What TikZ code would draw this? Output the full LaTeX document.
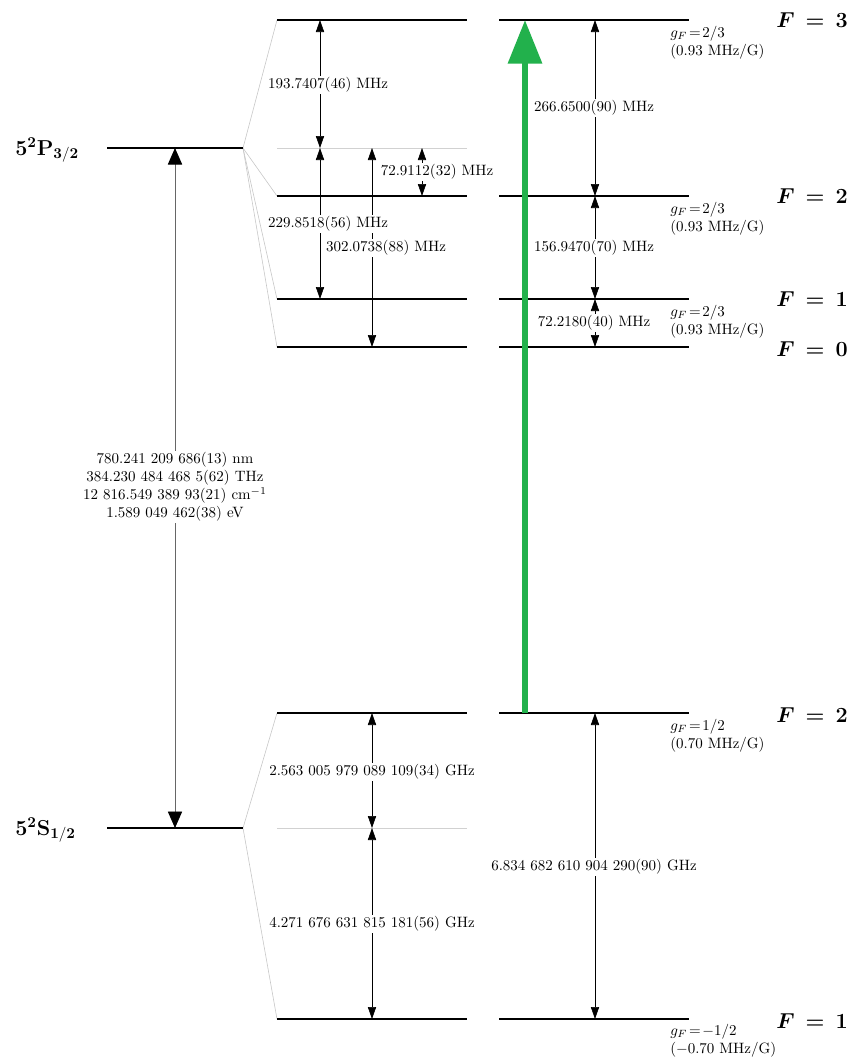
\documentclass[tikz,border=0pt]{standalone}
\usetikzlibrary{arrows.meta}
\definecolor{pgreen}{HTML}{22B14C}
\begin{document}
\begin{tikzpicture}[x=0.6667pt,y=-0.6667pt,
  level/.style={line width=1.6pt},
  fan/.style={black!22,line width=0.4pt},
  cog/.style={black!18,line width=0.4pt},
  sep/.style={line width=0.4pt,<->,>={Triangle[length=8pt,width=5.5pt]}},
  big/.style={black!60,line width=0.6pt,<->,>={Triangle[length=11pt,width=9.5pt,color=black]}},
  pump/.style={pgreen,line width=4pt,-{Triangle[length=29pt,width=22pt]}},
  lbl/.style={fill=white,inner sep=1pt,font=\normalsize},
  gf/.style={anchor=base west,align=left,inner sep=0pt,font=\normalsize},
  flbl/.style={anchor=west,inner sep=0pt,font=\Large\boldmath},
  term/.style={anchor=base west,inner sep=0pt,font=\Large\bfseries}]
\useasboundingbox (0,0) rectangle (848,1058);
% fine-structure levels
\coordinate (Pl) at (107,148); \coordinate (Pr) at (243,148);
\coordinate (Sl) at (107,828); \coordinate (Sr) at (243,828);
% hyperfine levels, middle column
\coordinate (m3l) at (277,20);   \coordinate (m3r) at (467,20);
\coordinate (mPl) at (277,148);  \coordinate (mPr) at (467,148);
\coordinate (m2l) at (277,196);  \coordinate (m2r) at (467,196);
\coordinate (m1l) at (277,299);  \coordinate (m1r) at (467,299);
\coordinate (m0l) at (277,347);  \coordinate (m0r) at (467,347);
\coordinate (s2l) at (277,713);  \coordinate (s2r) at (467,713);
\coordinate (sCl) at (277,828);  \coordinate (sCr) at (467,828);
\coordinate (s1l) at (277,1019); \coordinate (s1r) at (467,1019);
% right column
\coordinate (r3l) at (499,20);   \coordinate (r3r) at (689,20);
\coordinate (r2l) at (499,196);  \coordinate (r2r) at (689,196);
\coordinate (r1l) at (499,299);  \coordinate (r1r) at (689,299);
\coordinate (r0l) at (499,347);  \coordinate (r0r) at (689,347);
\coordinate (q2l) at (499,713);  \coordinate (q2r) at (689,713);
\coordinate (q1l) at (499,1019); \coordinate (q1r) at (689,1019);
% arrow columns
\coordinate (cE) at (175,0); \coordinate (cA) at (320,0);
\coordinate (cB) at (372,0); \coordinate (cC) at (422,0);
\coordinate (cD) at (595,0); \coordinate (cG) at (525,0);

% fan lines
\foreach \t in {m3l,m2l,m1l,m0l} \draw[fan] (Pr) -- (\t);
\foreach \t in {s2l,s1l} \draw[fan] (Sr) -- (\t);
\draw[cog] (mPl) -- (mPr);
\draw[cog] (sCl) -- (sCr);

% levels
\draw[level] (Pl) -- (Pr);
\draw[level] (Sl) -- (Sr);
\foreach \a/\b in {m3l/m3r,m2l/m2r,m1l/m1r,m0l/m0r,s2l/s2r,s1l/s1r,
                   r3l/r3r,r2l/r2r,r1l/r1r,r0l/r0r,q2l/q2r,q1l/q1r}
  \draw[level] (\a) -- (\b);

% term labels
\node[term] (tP) at (15,155) {5$^{\mathbf 2}$P$_{\mathbf{3/2}}$};
\node[term] (tS) at (15,835) {5$^{\mathbf 2}$S$_{\mathbf{1/2}}$};

% D2 line
\draw[big] (cE |- Sl) -- (cE |- Pl);
\node[lbl,align=center] (d2) at (175,487) {780.241 209 686(13) nm\\384.230 484 468 5(62) THz\\12 816.549 389 93(21) cm$^{-1}$\\1.589 049 462(38) eV};

% excited-state splittings
\draw[sep] (cA |- m3l) -- (cA |- mPl);
\draw[sep] (cA |- mPl) -- (cA |- m1l);
\draw[sep] (cB |- mPl) -- (cB |- m0l);
\draw[sep] (cC |- mPl) -- (cC |- m2l);
\draw[sep] (cD |- r3l) -- (cD |- r2l);
\draw[sep] (cD |- r2l) -- (cD |- r1l);
\draw[sep] (cD |- r1l) -- (cD |- r0l);
\node[lbl] (e1) at (328,85) {193.7407(46) MHz};
\node[lbl] (e2) at (328,224) {229.8518(56) MHz};
\node[lbl] (e3) at (386,248) {302.0738(88) MHz};
\node[lbl] (e4) at (437,172) {72.9112(32) MHz};
\node[lbl] (e5) at (594,108) {266.6500(90) MHz};
\node[lbl] (e6) at (594,248) {156.9470(70) MHz};
\node[lbl] (e7) at (594,323) {72.2180(40) MHz};

% ground-state splittings
\draw[sep] (cB |- s2l) -- (cB |- sCl);
\draw[sep] (cB |- sCl) -- (cB |- s1l);
\draw[sep] (cD |- q2l) -- (cD |- q1l);
\node[lbl] (g1) at (372,772) {2.563 005 979 089 109(34) GHz};
\node[lbl] (g2) at (372,924) {4.271 676 631 815 181(56) GHz};
\node[lbl] (g3) at (594,867) {6.834 682 610 904 290(90) GHz};

% pump arrow
\draw[pump] (cG |- q2l) -- (cG |- r3l);

% g-factors
\node[gf] (gf3) at (670,55) {$g_F\!=\!2/3$\\(0.93 MHz/G)};
\node[gf] (gf2) at (670,231) {$g_F\!=\!2/3$\\(0.93 MHz/G)};
\node[gf] (gf1) at (670,334) {$g_F\!=\!2/3$\\(0.93 MHz/G)};
\node[gf] (gs2) at (670,748) {$g_F\!=\!1/2$\\(0.70 MHz/G)};
\node[gf] (gs1) at (670,1053) {$g_F\!=\!-1/2$\\($-$0.70 MHz/G)};

% F labels
\node[flbl] (F3) at (776,20) {$F\,=\,3$};
\node[flbl] (F2) at (776,196) {$F\,=\,2$};
\node[flbl] (F1) at (776,299) {$F\,=\,1$};
\node[flbl] (F0) at (776,349) {$F\,=\,0$};
\node[flbl] (FS2) at (776,715) {$F\,=\,2$};
\node[flbl] (FS1) at (776,1021) {$F\,=\,1$};
\end{tikzpicture}
\end{document}
